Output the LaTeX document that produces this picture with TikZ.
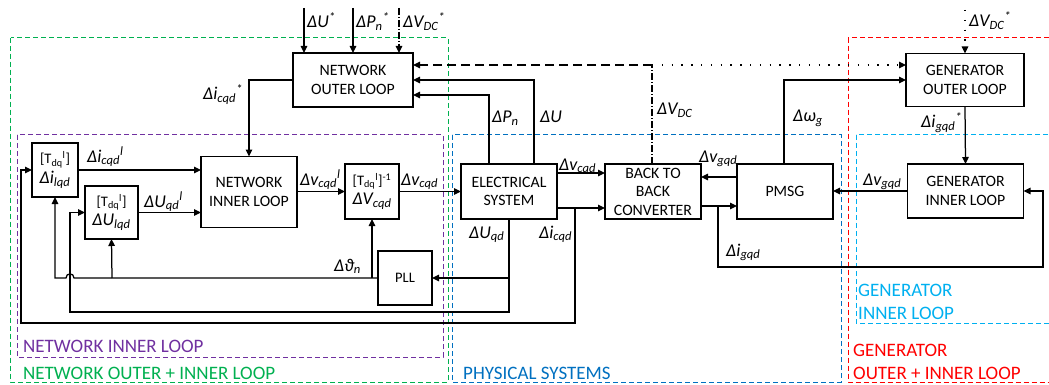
\documentclass[tikz,border=0pt]{standalone}
\usepackage{fontspec}
\setmainfont{Carlito}
\usetikzlibrary{arrows.meta,calc}
\definecolor{cgreen}{HTML}{00B050}
\definecolor{cpurple}{HTML}{7030A0}
\definecolor{cblue}{HTML}{0070C0}
\definecolor{clblue}{HTML}{00B0F0}
\definecolor{cred}{HTML}{FF0000}
\newcommand{\bt}{\fontsize{15.8}{18.5}\selectfont}
\newcommand{\ltx}{\fontsize{18}{21}\selectfont\itshape}
\newcommand{\tdq}{\fontsize{14.5}{17}\selectfont}
\newcommand{\gtx}{\fontsize{19}{23.5}\selectfont}
\begin{document}
\begin{tikzpicture}[x=1pt,y=-1pt,
  blk/.style={draw,line width=1.3pt,inner sep=0pt,outer sep=0pt,align=center,font=\bt},
  con/.style={line width=1.25pt},
  arr/.style={con,-{Triangle[length=7pt,width=6.5pt]}},
  lbl/.style={anchor=base west,inner sep=0pt,font=\ltx},
  grp/.style={line width=1pt,dash pattern=on 5pt off 3pt},
  glbl/.style={anchor=base west,inner sep=0pt,font=\gtx},
  dashdotline/.style={con,dash pattern=on 7pt off 2pt on 1pt off 2pt},
  longdash/.style={dash pattern=on 9pt off 5pt},
  dotline/.style={dash pattern=on 1.3pt off 8.5pt},
]
\useasboundingbox (0,0) rectangle (1049,385);

% group frames
\draw[grp,cgreen] (10.7,37.7) rectangle (448,382);
\draw[grp,cpurple] (17,135) rectangle (443,357);
\draw[grp,cblue] (452,135) rectangle (841,382);
\draw[grp,clblue] (856,135) rectangle (1060,323);
\draw[grp,cred] (848,37.7) rectangle (1060,382);

\node[glbl,cpurple] (gNI) at (23,352) {NETWORK INNER LOOP};
\node[glbl,cgreen] (gNO) at (23,379) {NETWORK OUTER + INNER LOOP};
\node[glbl,cblue] (gPS) at (463,379) {PHYSICAL SYSTEMS};
\node[glbl,clblue] (gGI1) at (858,296) {GENERATOR};
\node[glbl,clblue] (gGI2) at (858,319) {INNER LOOP};
\node[glbl,cred] (gGO1) at (853,356) {GENERATOR};
\node[glbl,cred] (gGO2) at (853,379) {OUTER + INNER LOOP};

% blocks
\node[blk,minimum width=120pt,minimum height=54pt] (nol) at (353,80) {NETWORK\\OUTER LOOP};
\node[blk,minimum width=118pt,minimum height=53pt] (gol) at (965,80) {GENERATOR\\OUTER LOOP};
\node[blk,minimum width=96pt,minimum height=71pt] (nil) at (249,192) {NETWORK\\INNER LOOP};
\node[blk,minimum width=46pt,minimum height=54pt] (til) at (55,170)
  {{\tdq[T\textsubscript{dq}\textsuperscript{l}]}\\[1pt]{\ltx Δi\textsubscript{lqd}}};
\node[blk,minimum width=53pt,minimum height=53pt] (tul) at (111.5,212.5)
  {{\tdq[T\textsubscript{dq}\textsuperscript{l}]}\\[1pt]{\ltx ΔU\textsubscript{lqd}}};
\node[blk,minimum width=54pt,minimum height=55pt] (tinv) at (372,191.5)
  {{\tdq[T\textsubscript{dq}\textsuperscript{l}]\textsuperscript{-1}}\\[1pt]{\ltx ΔV\textsubscript{cqd}}};
\node[blk,minimum width=96pt,minimum height=55pt] (es) at (509,191.5) {ELECTRICAL\\SYSTEM};
\node[blk,minimum width=96pt,minimum height=55pt] (b2b) at (653,191.5) {BACK TO\\BACK\\CONVERTER};
\node[blk,minimum width=96pt,minimum height=55pt] (pmsg) at (785,191.5) {PMSG};
\node[blk,minimum width=116pt,minimum height=54pt] (gil) at (965.5,191) {GENERATOR\\INNER LOOP};
\node[blk,minimum width=54pt,minimum height=54pt,font=\tdq] (pll) at (405,278) {PLL};

% coordinates
\coordinate (inU) at (304,8);
\coordinate (inP) at (353,8);
\coordinate (inV) at (399,8);
\coordinate (inG) at (965,10);
\coordinate (pP) at (489,95);
\coordinate (pU) at (534,80);
\coordinate (pV) at (652,65);
\coordinate (pW) at (784,80);
\coordinate (eA) at (557,173);
\coordinate (eB) at (557,208);
\coordinate (jI) at (575,208);
\coordinate (gA) at (737,177);
\coordinate (bB) at (701,206);
\coordinate (jG) at (718,206);
\coordinate (fbG) at (1043,267);
\coordinate (jU) at (509,278);
\coordinate (bU) at (509,312);
\coordinate (lU) at (70,312);
\coordinate (bI) at (575,323);
\coordinate (lI) at (21,323);
\coordinate (hopR) at (74,278);
\coordinate (hopL) at (66,278);
\coordinate (lT) at (55,278);
\coordinate (jT2) at (112,278);
\coordinate (jT3) at (372,278);

% references
\draw[arr] (inU) -- (nol.north -| inU);
\draw[arr] (inP) -- (nol.north -| inP);
\draw[arr,dashdotline] (inV) -- (nol.north -| inV);
\draw[arr,dotline] (inG) -- (gol.north);

% network loop
\draw[arr] (nol.west) -| (nil.north);
\draw[arr] (til.east) -- (nil.west |- til.east);
\draw[arr] (tul.east) -- (nil.west |- tul.east);
\draw[arr] (nil.east |- tinv.west) -- (tinv.west);
\draw[arr] (tinv.east) -- (es.west);
\draw[arr] (es.north -| pP) |- (nol.east |- pP);
\draw[arr] (es.north -| pU) |- (nol.east |- pU);
\draw[dashdotline] (b2b.north -| pV) -- (pV);
\draw[arr,longdash] (pV) -- (nol.east |- pV);
\draw[arr,dotline] (pV) -- (gol.west |- pV);
\draw[arr] (pmsg.north -| pW) |- (gol.west |- pW);
\draw[arr] (gol.south) -- (gil.north);
\draw[arr] (gil.west) -- (pmsg.east |- gil.west);
\draw[arr] (eA) -- (b2b.west |- eA);
\draw[arr] (eB) -- (b2b.west |- eB);
\draw[arr] (gA) -- (b2b.east |- gA);
\draw[arr] (bB) -- (pmsg.west |- bB);
\draw[arr] (jG) |- (fbG) |- (gil.east);
\draw[arr] (jI) |- (bI) -| (lI) |- (til.west);
\draw[arr] (es.south) |- (bU) -| (lU) |- (tul.west);
\draw[arr] (jU) -- (pll.east);
\draw[arr] (pll.west) -- (hopR) .. controls (74,272.5) and (66,272.5) .. (hopL) -- (lT) -- (til.south);
\draw[arr] (jT2) -- (tul.south);
\draw[arr] (jT3) -- (tinv.south);

% labels
\node[lbl] (l1) at (307,28) {ΔU\textsuperscript{*}};
\node[lbl] (l2) at (356,28) {ΔP\textsubscript{n}\textsuperscript{*}};
\node[lbl] (l3) at (403,28) {ΔV\textsubscript{DC}\textsuperscript{*}};
\node[lbl] (l4) at (203,100) {Δi\textsubscript{cqd}\textsuperscript{*}};
\node[lbl] (l5) at (492,123) {ΔP\textsubscript{n}};
\node[lbl] (l6) at (540,123) {ΔU};
\node[lbl] (l7) at (657,115) {ΔV\textsubscript{DC}};
\node[lbl] (l8) at (793,122) {Δω\textsubscript{g}};
\node[lbl] (l9) at (921,128) {Δi\textsubscript{gqd}\textsuperscript{*}};
\node[lbl] (l10) at (87,162) {Δi\textsubscript{cqd}\textsuperscript{l}};
\node[lbl] (l11) at (144,207) {ΔU\textsubscript{qd}\textsuperscript{l}};
\node[lbl] (l12) at (300,185) {Δv\textsubscript{cqd}\textsuperscript{l}};
\node[lbl] (l13) at (401,185) {Δv\textsubscript{cqd}};
\node[lbl] (l14) at (559,170) {Δv\textsubscript{cqd}};
\node[lbl] (l15) at (699,162) {Δv\textsubscript{gqd}};
\node[lbl] (l16) at (863,185) {Δv\textsubscript{gqd}};
\node[lbl] (l17) at (469,238) {ΔU\textsubscript{qd}};
\node[lbl] (l18) at (539,238) {Δi\textsubscript{cqd}};
\node[lbl] (l19) at (726,256) {Δi\textsubscript{gqd}};
\node[lbl] (l20) at (334,271) {Δϑ\textsubscript{n}};
\node[lbl] (l21) at (969,27) {ΔV\textsubscript{DC}\textsuperscript{*}};
\end{tikzpicture}
\end{document}
